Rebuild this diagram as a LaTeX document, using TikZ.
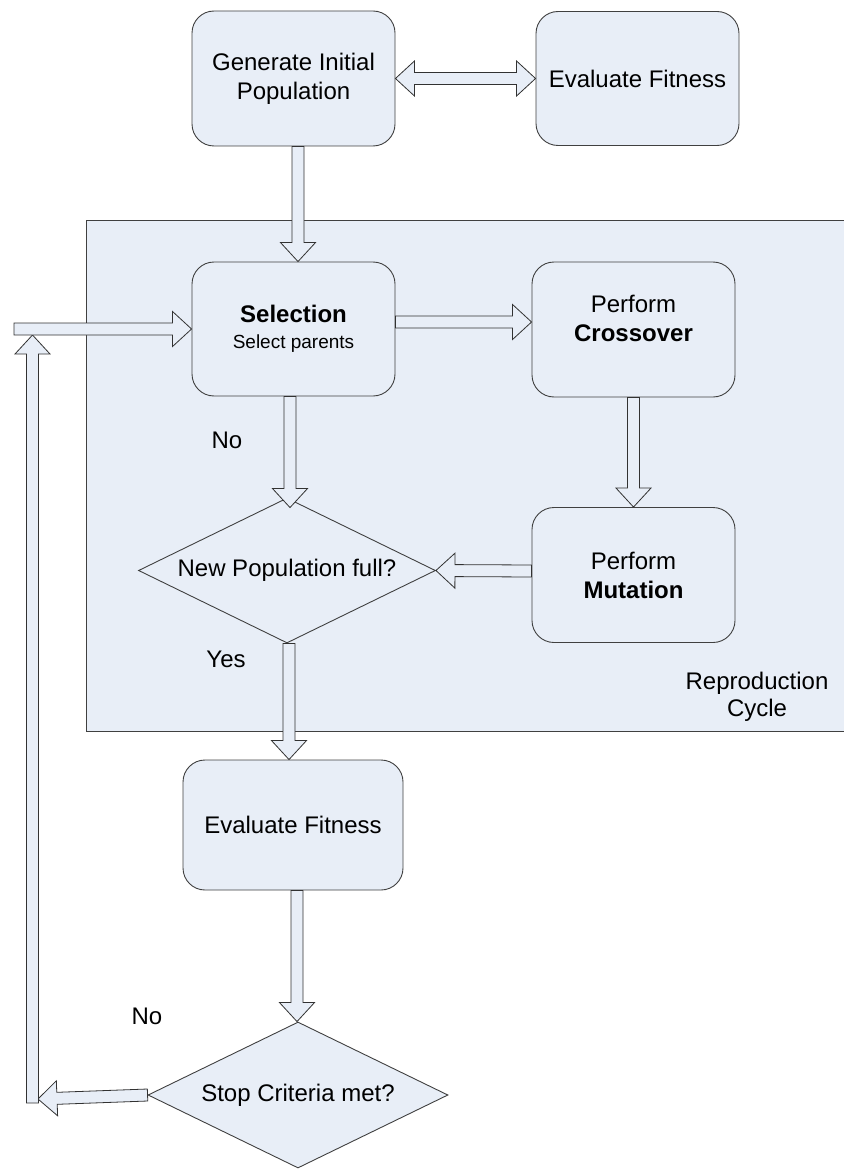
\documentclass[tikz,border=0pt]{standalone}
\usepackage{fontspec}
\setmainfont{Liberation Sans}
\usetikzlibrary{calc,shapes.geometric}
\definecolor{boxfill}{RGB}{232,238,247}
\definecolor{boxline}{RGB}{64,64,64}
\definecolor{arrline}{RGB}{50,50,50}
\tikzset{
  box/.style={draw=boxline, fill=boxfill, rounded corners=22pt, minimum width=203pt, minimum height=135pt,
    align=center, inner sep=0pt, line width=0.9pt, font=\fontsize{24}{29}\selectfont},
  dec/.style={diamond, draw=boxline, fill=boxfill, aspect=2.05, inner sep=0pt, line width=0.9pt,
    font=\fontsize{24}{29}\selectfont},
  arr/.style={draw=arrline, fill=boxfill, line width=0.8pt, line join=miter},
  lbl/.style={inner sep=0pt, align=center, font=\fontsize{24}{27}\selectfont}
}
\newcommand{\barrow}[2]{%
  \coordinate (bh) at ($(#2)!19pt!(#1)$);
  \draw[arr] ($(#1)!6pt!90:(#2)$) -- ($(bh)!6pt!90:(#2)$) -- ($(bh)!17.5pt!90:(#2)$) -- (#2)
    -- ($(bh)!17.5pt!-90:(#2)$) -- ($(bh)!6pt!-90:(#2)$) -- ($(#1)!6pt!-90:(#2)$) -- cycle;
}
\newcommand{\dbarrow}[2]{%
  \coordinate (bh1) at ($(#1)!19pt!(#2)$);
  \coordinate (bh2) at ($(#2)!19pt!(#1)$);
  \draw[arr] (#1) -- ($(bh1)!17.5pt!90:(#2)$) -- ($(bh1)!6pt!90:(#2)$) -- ($(bh2)!6pt!90:(#2)$)
    -- ($(bh2)!17.5pt!90:(#2)$) -- (#2) -- ($(bh2)!17.5pt!-90:(#2)$) -- ($(bh2)!6pt!-90:(#2)$)
    -- ($(bh1)!6pt!-90:(#2)$) -- ($(bh1)!17.5pt!-90:(#2)$) -- cycle;
}
\begin{document}
\begin{tikzpicture}[x=1pt,y=-1pt]
\useasboundingbox (0,0) rectangle (843,1169);
% reproduction cycle background
\fill[boxfill] (86,220) rectangle (846,731);
\draw[boxline, line width=0.9pt] (846,220) -- (86,220) -- (86,731) -- (846,731);
\node[lbl] (rep) at (757,697) {Reproduction\\Cycle};

\node[box] (gip) at (293.5,78.5) {Generate Initial\\Population};
\node[box, minimum height=134pt] (ef1) at (637.5,78.5) {Evaluate Fitness};
\node[box, minimum height=134pt, font=\fontsize{24}{26}\selectfont] (sel) at (293.5,329)
  {\textbf{Selection}\\{\fontsize{19}{22}\selectfont Select parents}};
\node[box] (cro) at (633.5,329.5) {Perform\\\textbf{Crossover}\\[-6pt]\mbox{}};
\node[box] (mut) at (633.5,575) {Perform\\\textbf{Mutation}};
\node[dec, minimum width=297pt, minimum height=145pt] (npf) at (287,570.5) {New Population full?};
\node[box, minimum width=220pt, minimum height=130pt] (ef2) at (293,825) {Evaluate Fitness};
\node[dec, minimum width=300pt, minimum height=146pt] (stop) at (298,1095) {Stop Criteria met?};

\node[lbl] (no1) at (227,440) {No};
\node[lbl] (yes) at (226,659) {Yes};
\node[lbl] (no2) at (147,1016) {No};

% connector end points
\coordinate (a2s) at ([xshift=4.5pt]gip.south);
\coordinate (a2e) at ([xshift=4.5pt]sel.north);
\coordinate (a3s) at ([yshift=7pt]sel.east);
\coordinate (a3e) at ([yshift=7.5pt]cro.west);
\coordinate (a5s) at ([yshift=4pt]mut.west);
\coordinate (a6s) at ([xshift=-3.5pt]sel.south);
\coordinate (a6e) at ([xshift=3pt,yshift=-10pt]npf.north);
\coordinate (a7s) at ([xshift=2pt]npf.south);
\coordinate (a7e) at ([xshift=-4pt]ef2.north);
\coordinate (a8s) at ([xshift=4pt]ef2.south);
\coordinate (a8e) at ([xshift=-1pt]stop.north);
\coordinate (lt) at (38,1099);
\coordinate (ub) at (32.5,1103);
\coordinate (ut) at (32.5,335);
\coordinate (ls) at (14,329);
\coordinate (a11e) at (sel.west);

\dbarrow{gip.east}{ef1.west}
\barrow{a2s}{a2e}
\barrow{a3s}{a3e}
\barrow{cro.south}{mut.north}
\barrow{a5s}{npf.east}
\barrow{a6s}{a6e}
\barrow{a7s}{a7e}
\barrow{a8s}{a8e}
\barrow{stop.west}{lt}
\barrow{ub}{ut}
\barrow{ls}{a11e}
\end{tikzpicture}
\end{document}
